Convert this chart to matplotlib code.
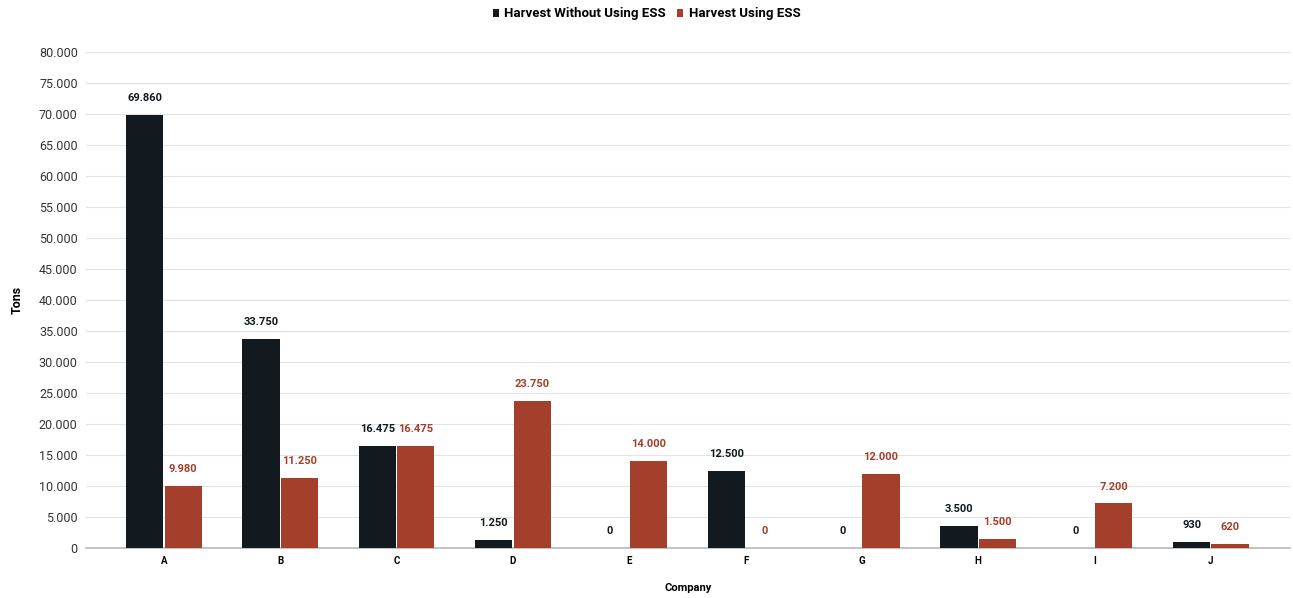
import matplotlib
matplotlib.use("Agg")
import matplotlib.pyplot as plt
from matplotlib.ticker import FuncFormatter, MultipleLocator
import numpy as np

plt.rcParams["font.family"] = ["Roboto", "DejaVu Sans"]

companies = ["A", "B", "C", "D", "E", "F", "G", "H", "I", "J"]
without_ess = [69860, 33750, 16475, 1250, 0, 12500, 0, 3500, 0, 930]
with_ess = [9980, 11250, 16475, 23750, 14000, 0, 12000, 1500, 7200, 620]

dark = "#121a20"
rust = "#a33f2a"

def dotted(v, pos=None):
    return f"{int(round(v)):,}".replace(",", ".")

fig = plt.figure(figsize=(12.93, 5.98), dpi=100)
ax = fig.add_axes([86 / 1293, 50 / 598, (1290 - 86) / 1293, (548 - 52) / 598])

x = np.arange(len(companies))
w = 0.32
gap = 0.005
b1 = ax.bar(x - w / 2 - gap, without_ess, width=w, color=dark, label="Harvest Without Using ESS", zorder=3)
b2 = ax.bar(x + w / 2 + gap, with_ess, width=w, color=rust, label="Harvest Using ESS", zorder=3)

for bars, vals, col in ((b1, without_ess, dark), (b2, with_ess, rust)):
    for rect, v in zip(bars, vals):
        ax.annotate(dotted(v), (rect.get_x() + rect.get_width() / 2, v),
                    xytext=(0, 8.5), textcoords="offset points",
                    ha="center", va="bottom", fontsize=8, fontweight="bold", color=col)

ax.set_xlim(-0.67, 9.68)
ax.set_ylim(0, 80000)
ax.yaxis.set_major_locator(MultipleLocator(5000))
ax.yaxis.set_major_formatter(FuncFormatter(dotted))
ax.set_xticks(x)
ax.set_xticklabels(companies, fontsize=7, fontweight="bold")
ax.tick_params(axis="y", labelsize=9, length=0, pad=6, labelcolor="#333333")
ax.tick_params(axis="x", length=0, pad=6)
ax.grid(axis="y", color="#e3e3e3", linewidth=0.8, zorder=0)
for s in ("top", "right", "left"):
    ax.spines[s].set_visible(False)
ax.spines["bottom"].set_color("#b8b8b8")
ax.spines["bottom"].set_linewidth(1.2)

fig.text(688 / 1293, 1 - 588 / 598, "Company", ha="center", va="center",
         fontsize=8, fontweight="bold")
fig.text(17 / 1293, 1 - 300 / 598, "Tons", rotation=90, ha="center", va="center",
         fontsize=9, fontweight="bold")

fig.legend(handles=[b1, b2], loc="center", bbox_to_anchor=(0.5, 1 - 14 / 598), ncol=2,
           frameon=False, handlelength=0.5, handleheight=0.5,
           handletextpad=0.4, columnspacing=0.8, prop={"weight": "bold", "size": 9.5})

fig.savefig("out.png", dpi=100)
